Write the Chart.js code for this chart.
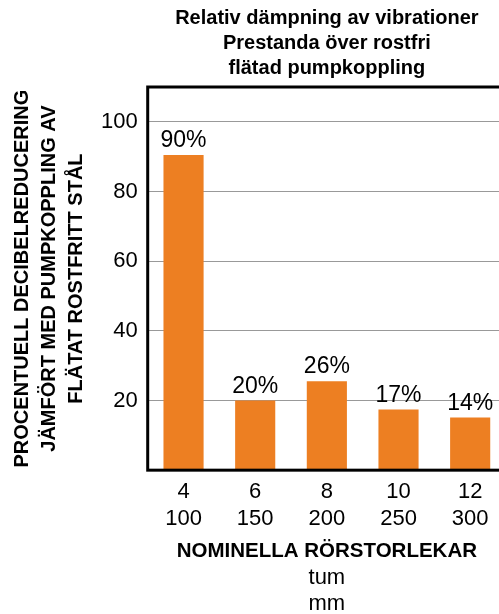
<!DOCTYPE html>
<html>
<head>
<meta charset="utf-8">
<script src="https://cdn.jsdelivr.net/npm/chart.js@4"></script>
<style>
  html, body { margin: 0; padding: 0; background: #fff; overflow: hidden; }
  #wrap { width: 540px; height: 616px; }
</style>
</head>
<body>
<div id="wrap"><canvas id="chart" width="540" height="616"></canvas></div>
<script>
"use strict";

var sizeInches = ["4", "6", "8", "10", "12"];
var sizeMm = ["100", "150", "200", "250", "300"];
var reduction = [90.5, 20, 25.5, 17.4, 15.1];
var reductionLabels = ["90%", "20%", "26%", "17%", "14%"];
var yTicks = [20, 40, 60, 80, 100];

var FONT = "'Liberation Sans', Arial, sans-serif";

var categoryLabels = sizeInches.map(function(inch, i) {
  return [inch, sizeMm[i]];
});

// percentage text above each bar
var barLabels = {
  id: "barLabels",
  afterDatasetsDraw: function(chart) {
    var ctx = chart.ctx;
    var meta = chart.getDatasetMeta(0);
    ctx.save();
    ctx.font = "23px " + FONT;
    ctx.fillStyle = "#000";
    ctx.textAlign = "center";
    ctx.textBaseline = "alphabetic";
    meta.data.forEach(function(bar, i) {
      ctx.fillText(reductionLabels[i], bar.x, bar.y - 8);
    });
    ctx.restore();
  }
};

// thick frame round the plot
var plotFrame = {
  id: "plotFrame",
  afterDatasetsDraw: function(chart) {
    var a = chart.chartArea;
    var ctx = chart.ctx;
    ctx.save();
    ctx.strokeStyle = "#000";
    ctx.lineWidth = 3;
    ctx.strokeRect(a.left, a.top, a.right - a.left, a.bottom - a.top);
    ctx.restore();
  }
};

new Chart(document.getElementById("chart").getContext("2d"), {
  type: "bar",
  data: {
    labels: categoryLabels,
    datasets: [
      {
        data: reduction,
        backgroundColor: "#ED7F22",
        barPercentage: 0.56,
        categoryPercentage: 1
      }
    ]
  },
  plugins: [barLabels, plotFrame],
  options: {
    responsive: false,
    animation: false,
    layout: { padding: { left: 4, right: 34, top: 0, bottom: 0 } },
    plugins: {
      legend: { display: false },
      tooltip: { enabled: false },
      title: {
        display: true,
        fullSize: false,
        text: ["Relativ dämpning av vibrationer", "Prestanda över rostfri", "flätad pumpkoppling"],
        color: "#000",
        font: { family: FONT, size: 20, weight: "bold", lineHeight: 1.25 },
        padding: { top: 6, bottom: 6 }
      },
      subtitle: {
        display: true,
        position: "bottom",
        fullSize: false,
        text: ["tum", "mm"],
        color: "#000",
        font: { family: FONT, size: 22, weight: "normal", lineHeight: 1.14 },
        padding: { top: 3, bottom: 0 }
      }
    },
    scales: {
      x: {
        grid: { display: false, drawTicks: false },
        border: { display: false },
        ticks: {
          color: "#000",
          padding: 8,
          font: { family: FONT, size: 22, lineHeight: 1.23 }
        },
        title: {
          display: true,
          text: "NOMINELLA RÖRSTORLEKAR",
          color: "#000",
          font: { family: FONT, size: 20.5, weight: "bold", lineHeight: 1.1 },
          padding: { top: 0, bottom: 0 }
        }
      },
      y: {
        min: 0,
        max: 110,
        afterBuildTicks: function(axis) {
          axis.ticks = yTicks.map(function(v) { return { value: v }; });
        },
        grid: { color: "#999", lineWidth: 1, drawTicks: false },
        border: { display: false },
        ticks: {
          color: "#000",
          padding: 10,
          font: { family: FONT, size: 22 }
        },
        title: {
          display: true,
          text: ["PROCENTUELL DECIBELREDUCERING", "JÄMFÖRT MED PUMPKOPPLING AV", "FLÄTAT ROSTFRITT STÅL"],
          color: "#000",
          font: { family: FONT, size: 20, weight: "bold", lineHeight: 1.35 },
          padding: { top: 5, bottom: 1 }
        }
      }
    }
  }
});
</script>
</body>
</html>
